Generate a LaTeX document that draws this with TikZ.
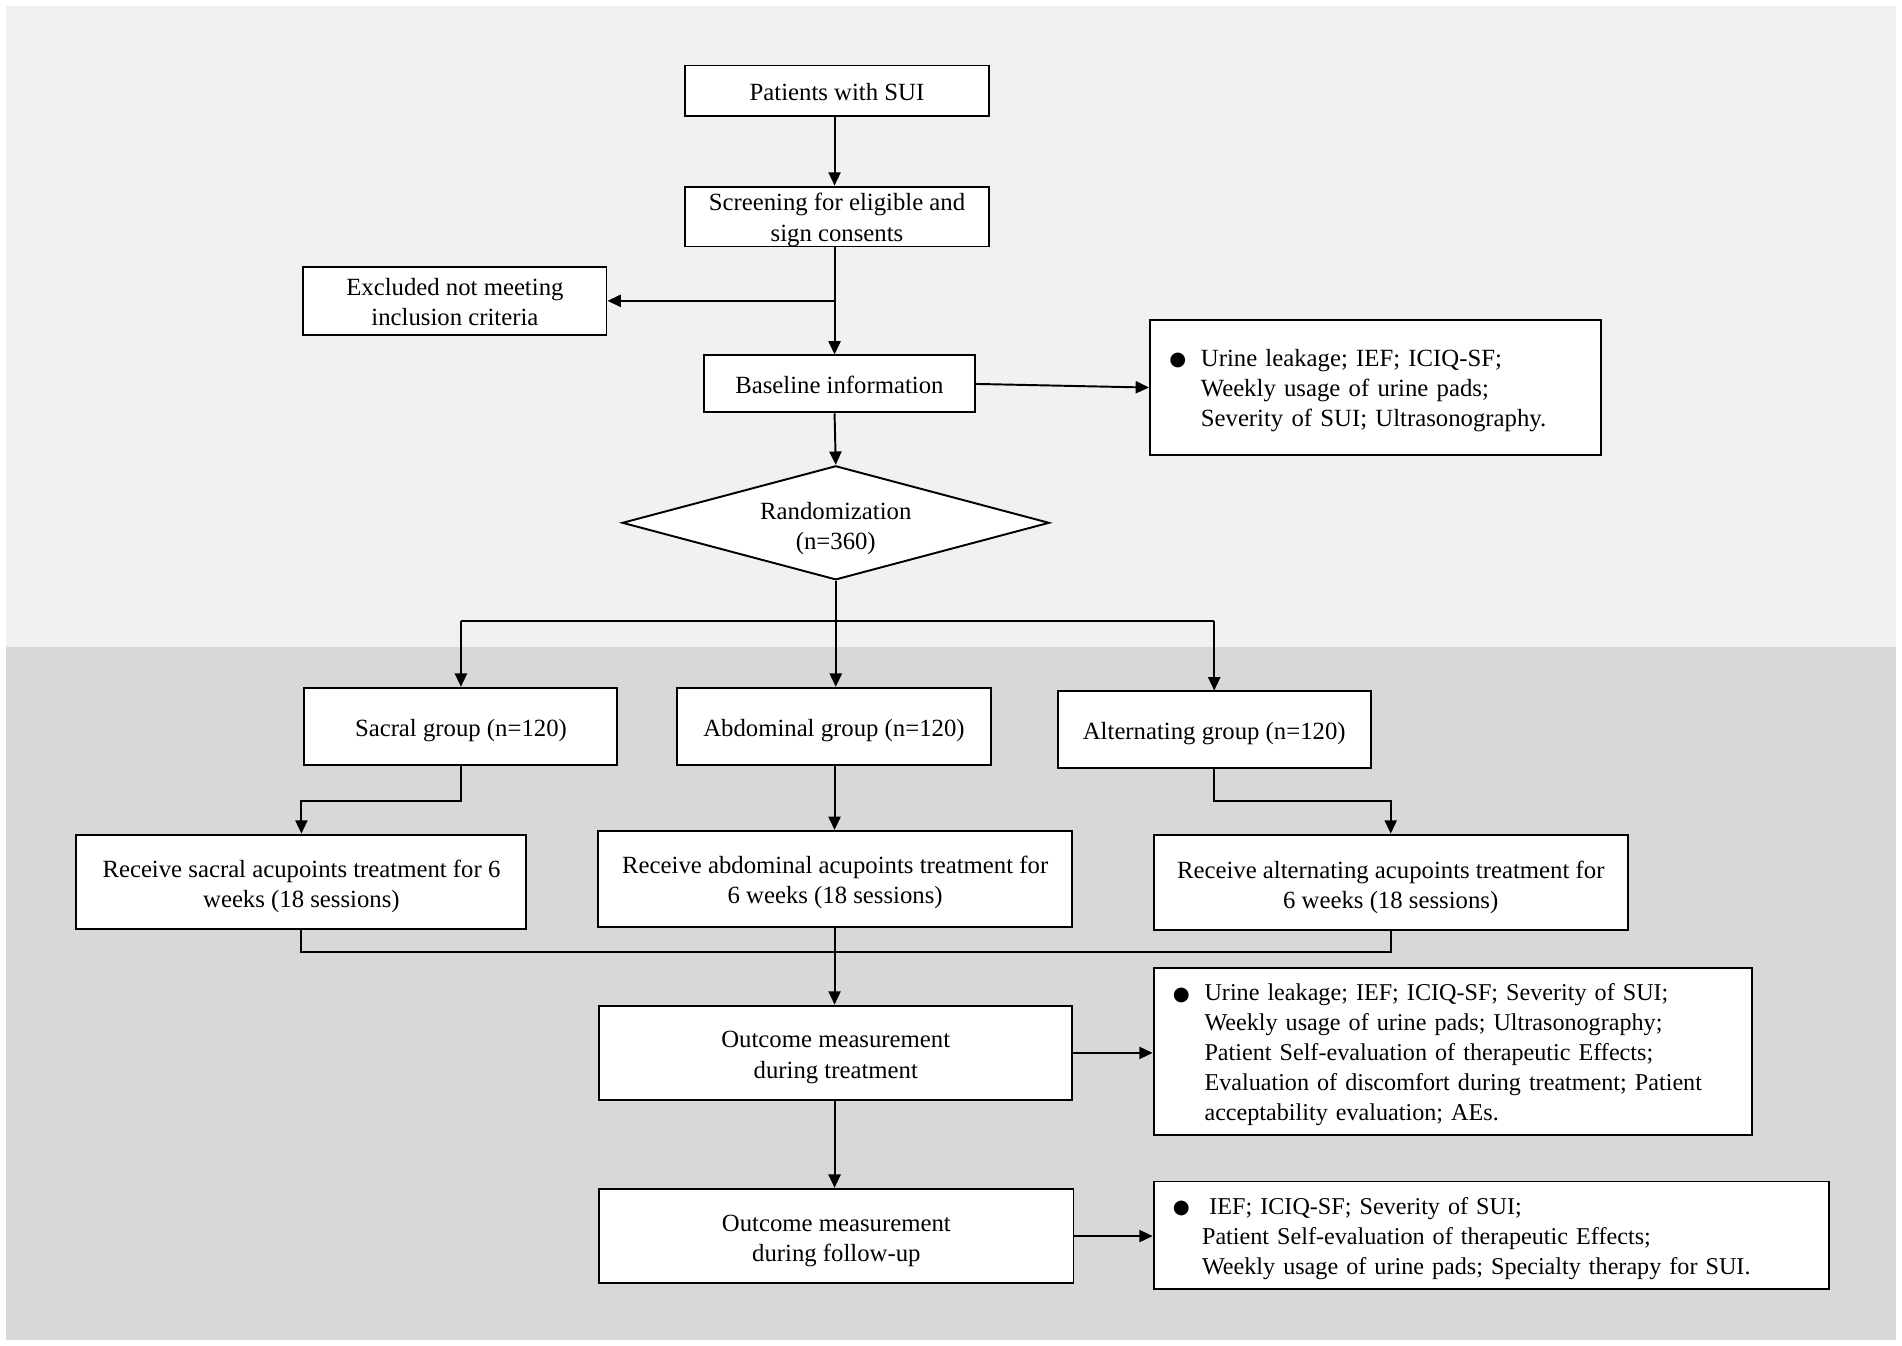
\documentclass[tikz,border=0pt]{standalone}
\usepackage{fontspec}
\setmainfont{Liberation Serif}
\newfontfamily\symfont{DejaVu Sans}
\usetikzlibrary{shapes.geometric,arrows.meta,calc}
\newcommand{\diagfont}{\fontsize{10.2}{12.5}\selectfont}
\newcommand{\listfont}{\fontsize{9.95}{12.3}\selectfont}
\newcommand{\bul}[1][13pt]{\makebox[#1][l]{\raisebox{0.3pt}{\symfont\fontsize{8}{8}\selectfont ●}}}
\newcommand{\ts}[1][10pt]{\rule{0pt}{#1}}
\definecolor{bglight}{HTML}{F1F1F1}
\definecolor{bgdark}{HTML}{D8D8D8}
\begin{document}
\begin{tikzpicture}[x=0.5pt,y=-0.5pt,
  box/.style={draw, line width=0.8pt, fill=white, inner sep=0pt, align=center, font=\diagfont},
  listbox/.style={draw, line width=0.8pt, fill=white, inner xsep=8pt, inner ysep=0pt, align=left, font=\diagfont},
  conn/.style={line width=0.8pt},
  arr/.style={conn, -{Triangle[length=5.5pt,width=5pt]}}]
\useasboundingbox (0,0) rectangle (1568,1109.6);
\fill[bglight] (5,5) rectangle (1563,533);
\fill[bgdark] (5,533) rectangle (1563,1105);

% nodes
\node[box, minimum width=125pt, minimum height=21pt] (pat) at (690,75) {\ts[8pt]Patients with SUI};
\node[box, minimum width=125pt, minimum height=24.5pt] (scr) at (690,178.5) {\ts Screening for eligible and\\sign consents};
\node[box, minimum width=125pt, minimum height=28pt] (exc) at (375,248) {\ts[8pt]Excluded not meeting\\inclusion criteria};
\node[box, minimum width=112pt, minimum height=23.5pt] (base) at (692,316.5) {\ts[8pt]Baseline information};
\node[listbox, minimum width=186pt, minimum height=55.5pt, text width=170pt] (m1) at (1134,319.5)
 {\begin{tabular}{@{}l@{}l@{}}\bul & \ts[11.25pt]Urine leakage; IEF; ICIQ-SF;\\ & Weekly usage of urine pads;\\ & Severity of SUI; Ultrasonography.\end{tabular}};
\node[draw, line width=0.8pt, fill=white, diamond, aspect=3.74, minimum width=176pt, minimum height=47pt, inner sep=0pt, align=center, font=\diagfont] (rand) at (689,431) {\ts[12pt]Randomization\\(n=360)};

\node[box, minimum width=129pt, minimum height=32pt] (sac) at (380,599) {\ts[10pt]Sacral group (n=120)};
\node[box, minimum width=129.5pt, minimum height=32pt] (abd) at (687.5,599) {\ts[10pt]Abdominal group (n=120)};
\node[box, minimum width=129pt, minimum height=31.5pt] (alt) at (1001,601.5) {\ts[10pt]Alternating group (n=120)};

\node[box, minimum width=185.5pt, minimum height=39pt] (rs) at (248.5,727) {\ts[11pt]Receive sacral acupoints treatment for 6\\weeks (18 sessions)};
\node[box, minimum width=195.5pt, minimum height=39.5pt] (ra) at (688.5,724.5) {\ts Receive abdominal acupoints treatment for\\6 weeks (18 sessions)};
\node[box, minimum width=195.5pt, minimum height=39.5pt] (rl) at (1146.5,727.5) {\ts[11pt]Receive alternating acupoints treatment for\\6 weeks (18 sessions)};

\node[box, minimum width=195pt, minimum height=39pt] (ot) at (689,868) {\ts[10.5pt]Outcome measurement\\during treatment};
\node[listbox, font=\listfont, minimum width=246.5pt, minimum height=69pt, text width=230.5pt] (m2) at (1197.5,867)
 {\begin{tabular}{@{}l@{}l@{}}\bul & \ts[11pt]Urine leakage; IEF; ICIQ-SF; Severity of SUI;\\ & Weekly usage of urine pads; Ultrasonography;\\ & Patient Self-evaluation of therapeutic Effects;\\ & Evaluation of discomfort during treatment; Patient\\ & acceptability evaluation; AEs.\end{tabular}};
\node[box, minimum width=195.5pt, minimum height=39pt] (of) at (689.5,1019) {\ts[11pt]Outcome measurement\\during follow-up};
\node[listbox, font=\listfont, minimum width=278.5pt, minimum height=44.5pt, text width=262.5pt] (m3) at (1229.5,1018.5)
 {\begin{tabular}{@{}l@{}}\bul[15pt]\ts[11pt]IEF; ICIQ-SF; Severity of SUI;\\ \hspace*{12pt}Patient Self-evaluation of therapeutic Effects;\\ \hspace*{12pt}Weekly usage of urine pads; Specialty therapy for SUI.\end{tabular}};

% helper coordinates
\coordinate (split) at (688,512);
\coordinate (jL) at (0,660);
\coordinate (jB) at (0,785);

% connectors
\draw[arr] (pat.south -| 688,0) -- (scr.north -| 688,0);
\draw[arr] (scr.south -| 688,0) -- (base.north -| 688,0);
\draw[arr] (scr.south -| 688,0) |- (exc.east);
\draw[arr] (base.south -| 688,0) -- (rand.north);
\draw[arr] (base.east) -- (m1.west);

\draw[arr] (rand.south) -- (rand.south |- abd.north);
\draw[conn] (sac.north |- split) -- (alt.north |- split);
\draw[arr] (sac.north |- split) -- (sac.north);
\draw[arr] (alt.north |- split) -- (alt.north);

\draw[arr] (sac.south) -- (sac.south |- jL) -| (rs.north);
\draw[arr] (abd.south -| 688,0) -- (ra.north -| 688,0);
\draw[arr] (alt.south) -- (alt.south |- jL) -| (rl.north);

\draw[conn] (rs.south) -- (rs.south |- jB) -- (rl.south |- jB) -- (rl.south);
\draw[arr] (ra.south -| 688,0) -- (ot.north -| 688,0);

\draw[arr] (ot.east) -- (ot.east -| m2.west);
\draw[arr] (ot.south -| 688,0) -- (of.north -| 688,0);
\draw[arr] (of.east) -- (of.east -| m3.west);
\end{tikzpicture}
\end{document}
